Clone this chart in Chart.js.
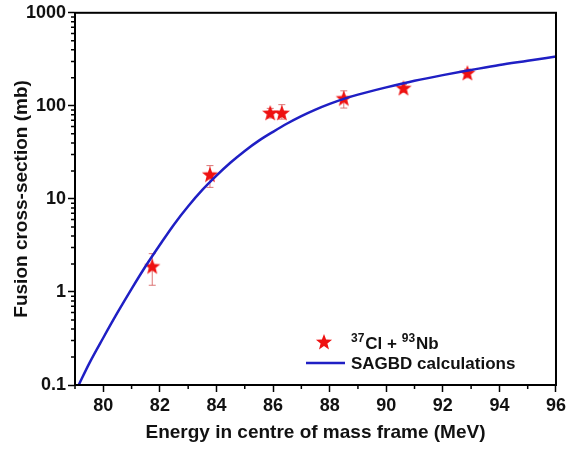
<!DOCTYPE html>
<html>
<head>
<meta charset="utf-8">
<script src="https://cdn.jsdelivr.net/npm/chart.js@4.4.0/dist/chart.umd.min.js"></script>
<style>
  html, body { margin: 0; padding: 0; background: #fff; }
</style>
</head>
<body>
<canvas id="chart" width="569" height="451"></canvas>
<script>
// measured points (37Cl + 93Nb)
const expEnergy = [81.73, 83.77, 85.90, 86.31, 88.50, 90.61, 92.87];
const expSigma = [1.88, 18.2, 83.7, 83.7, 120, 155, 225];
const expErrLow = [1.18, 13.3, 74, 72, 94.7, 140, 200];
const expErrHigh = [2.58, 22.8, 94, 103, 145, 170, 248];

// SAGBD curve
const calcEnergy = [79.13, 79.5, 80, 80.5, 81, 81.5, 82, 82.5, 83, 83.5, 84, 84.5, 85, 85.5, 86, 86.5, 87, 87.5, 88, 88.5, 89, 90, 91, 92, 93, 94, 95, 96];
const calcSigma = [0.100, 0.170, 0.322, 0.598, 1.08, 1.90, 3.21, 5.32, 8.34, 12.5, 17.8, 24.6, 32.8, 42.3, 52.6, 64.6, 77.6, 91.2, 105, 119, 132, 158, 186, 214, 243, 275, 305, 339];

const xTickValues = [80, 82, 84, 86, 88, 90, 92, 94, 96];
const xMinorValues = [79, 81, 83, 85, 87, 89, 91, 93, 95];
const yTickValues = [0.1, 1, 10, 100, 1000];

const FONT = '"Liberation Sans", Arial, sans-serif';

// filled five-point star used as point style
function makeStar(size, color) {
    const c = document.createElement('canvas');
    c.width = size; c.height = size;
    const g = c.getContext('2d');
    const cx = size / 2, cy = size / 2 + 0.5;
    const ro = size / 2 - 0.5, ri = ro * 0.42;
    g.beginPath();
    for (let i = 0; i < 10; i++) {
        const r = i % 2 === 0 ? ro : ri;
        const a = -Math.PI / 2 + i * Math.PI / 5;
        g.lineTo(cx + r * Math.cos(a), cy + r * Math.sin(a));
    }
    g.closePath();
    g.fillStyle = color;
    g.fill();
    return c;
}
const starImg = makeStar(18, '#ee1111');

const errorBars = {
    id: 'errorBars',
    beforeDatasetsDraw(chart) {
        const { ctx, scales: { x, y } } = chart;
        ctx.save();
        ctx.strokeStyle = 'rgba(215, 95, 95, 0.85)';
        ctx.lineWidth = 1;
        expEnergy.forEach((e, i) => {
            const px = x.getPixelForValue(e);
            const top = y.getPixelForValue(expErrHigh[i]);
            const bot = y.getPixelForValue(expErrLow[i]);
            ctx.beginPath();
            ctx.moveTo(px, top); ctx.lineTo(px, bot);
            ctx.moveTo(px - 3.5, top); ctx.lineTo(px + 3.5, top);
            ctx.moveTo(px - 3.5, bot); ctx.lineTo(px + 3.5, bot);
            ctx.stroke();
        });
        ctx.restore();
    }
};

const frameAndMinor = {
    id: 'frameAndMinor',
    afterDraw(chart) {
        const { ctx, chartArea: a, scales: { x, y } } = chart;
        ctx.save();
        ctx.strokeStyle = '#000';
        ctx.lineWidth = 2;
        ctx.strokeRect(a.left, a.top, a.right - a.left, a.bottom - a.top);

        // minor ticks
        ctx.lineWidth = 1.5;
        ctx.beginPath();
        xMinorValues.forEach(v => {
            const px = x.getPixelForValue(v);
            ctx.moveTo(px, a.bottom); ctx.lineTo(px, a.bottom + 4);
        });
        for (let d = 0.1; d < 1000; d *= 10) {
            for (let m = 2; m <= 9; m++) {
                const py = y.getPixelForValue(d * m);
                ctx.moveTo(a.left, py); ctx.lineTo(a.left - 4, py);
            }
        }
        ctx.stroke();
        ctx.restore();
    }
};

const customLegend = {
    id: 'customLegend',
    afterDraw(chart) {
        const { ctx } = chart;
        ctx.save();
        ctx.drawImage(starImg, 324 - 9, 342 - 9);
        ctx.fillStyle = '#111';
        ctx.textBaseline = 'alphabetic';
        let tx = 351;
        const base = 349;
        const parts = [['37', true], ['Cl + ', false], ['93', true], ['Nb', false]];
        parts.forEach(([t, sup]) => {
            ctx.font = sup ? 'bold 12px ' + FONT : 'bold 17px ' + FONT;
            ctx.fillText(t, tx, sup ? base - 7 : base);
            tx += ctx.measureText(t).width + (sup ? 1 : 0);
        });
        ctx.strokeStyle = '#1f1fc4';
        ctx.lineWidth = 2.5;
        ctx.beginPath();
        ctx.moveTo(306, 363); ctx.lineTo(345, 363);
        ctx.stroke();
        ctx.font = 'bold 17px ' + FONT;
        ctx.textBaseline = 'middle';
        ctx.fillText('SAGBD calculations', 351, 364);
        ctx.restore();
    }
};

new Chart(document.getElementById('chart'), {
    type: 'scatter',
    data: {
        datasets: [
            {
                label: 'SAGBD calculations',
                type: 'line',
                data: calcEnergy.map((e, i) => ({ x: e, y: calcSigma[i] })),
                borderColor: '#1f1fc4',
                borderWidth: 2.5,
                pointRadius: 0,
                cubicInterpolationMode: 'monotone',
                fill: false,
                order: 0
            },
            {
                label: '37Cl + 93Nb',
                data: expEnergy.map((e, i) => ({ x: e, y: expSigma[i] })),
                pointStyle: starImg,
                order: 1
            }
        ]
    },
    options: {
        responsive: false,
        animation: false,
        devicePixelRatio: 1,
        layout: { padding: { left: 0, right: 9, top: 12, bottom: 0 } },
        plugins: {
            legend: { display: false },
            tooltip: { enabled: false }
        },
        scales: {
            x: {
                type: 'linear',
                min: 79,
                max: 96,
                afterBuildTicks: s => { s.ticks = xTickValues.map(v => ({ value: v })); },
                afterFit: s => { s.height = 66; },
                grid: { drawOnChartArea: false, tickLength: 7, tickColor: '#000', tickWidth: 1.5 },
                border: { color: '#000', width: 2 },
                ticks: { color: '#111', font: { family: FONT, size: 18, weight: 'bold' }, padding: 3, maxRotation: 0 },
                title: {
                    display: true,
                    text: 'Energy in centre of mass frame (MeV)',
                    color: '#111',
                    font: { family: FONT, size: 19, weight: 'bold' },
                    padding: { top: 0, bottom: 7 }
                }
            },
            y: {
                type: 'logarithmic',
                min: 0.1,
                max: 1000,
                afterBuildTicks: s => { s.ticks = yTickValues.map(v => ({ value: v })); },
                afterFit: s => { s.width = 75; },
                grid: { drawOnChartArea: false, tickLength: 7, tickColor: '#000', tickWidth: 1.5 },
                border: { color: '#000', width: 2 },
                ticks: {
                    color: '#111',
                    font: { family: FONT, size: 18, weight: 'bold' },
                    padding: 2,
                    callback: v => (v < 1 ? v.toFixed(1) : String(Math.round(v)))
                },
                title: {
                    display: true,
                    text: 'Fusion cross-section (mb)',
                    color: '#111',
                    font: { family: FONT, size: 19, weight: 'bold' },
                    padding: { top: 10, bottom: 0 }
                }
            }
        }
    },
    plugins: [errorBars, frameAndMinor, customLegend]
});
</script>
</body>
</html>
